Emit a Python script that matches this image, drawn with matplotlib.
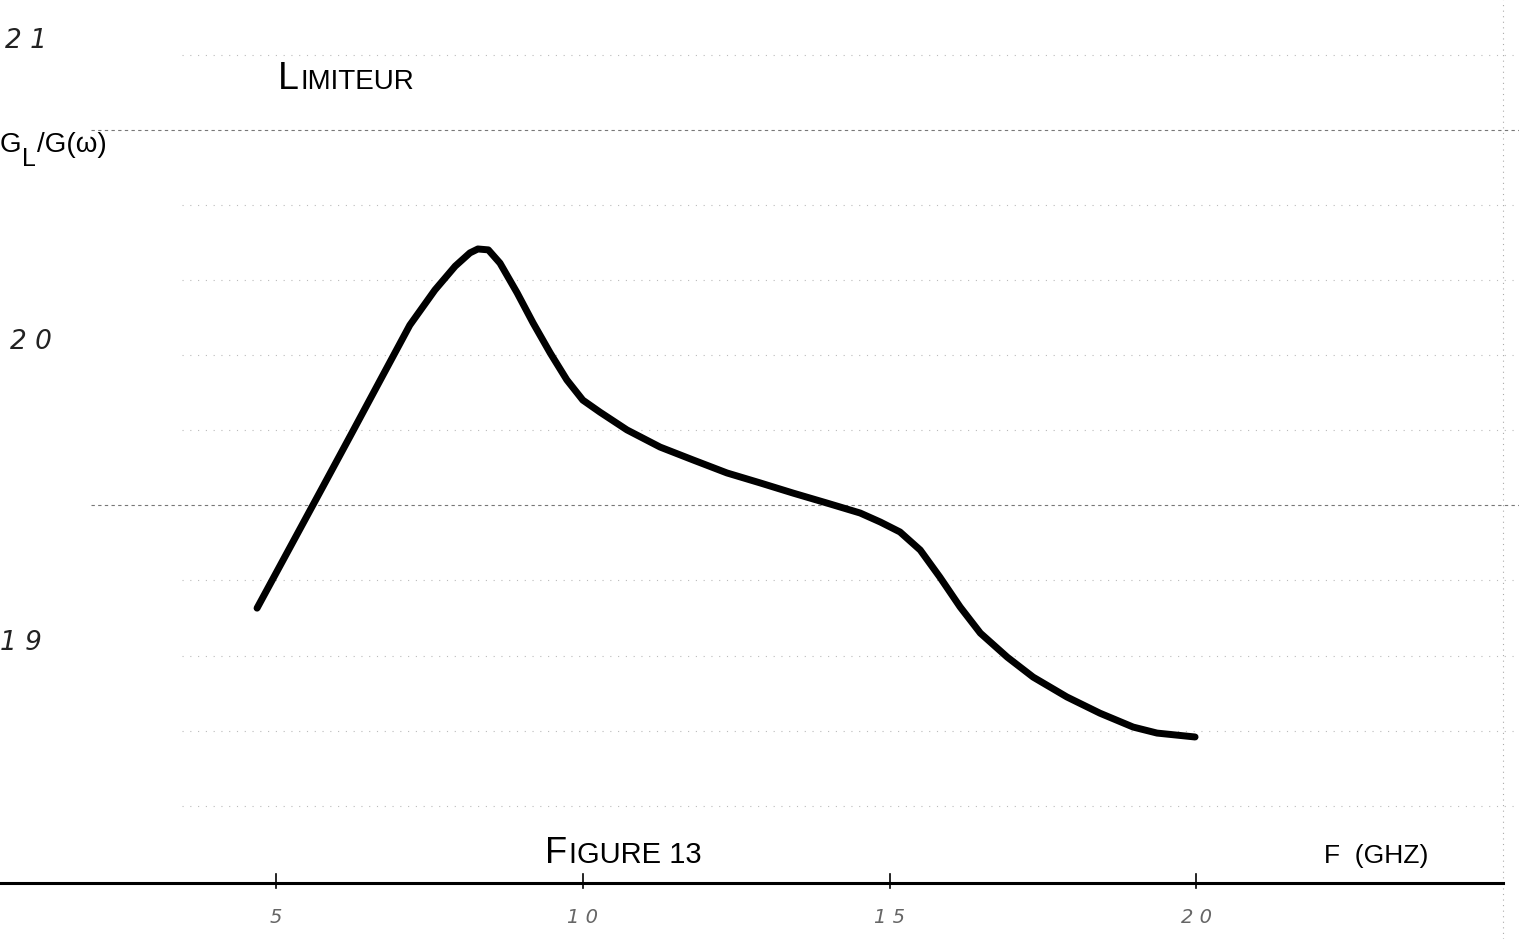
import matplotlib
matplotlib.use('Agg')
import matplotlib.pyplot as plt
import numpy as np

# Courbe (F en GHz, rapport G_L/G(w))
freq = [4.69, 5.23, 5.77, 6.21, 6.70, 7.18, 7.59, 7.92, 8.16, 8.29, 8.46,
        8.65, 8.93, 9.19, 9.47, 9.74, 10.00, 10.28, 10.72, 11.26, 11.80, 12.35,
        12.89, 13.43, 13.98, 14.52, 14.85, 15.17, 15.50, 15.82, 16.15, 16.48,
        16.92, 17.34, 17.89, 18.43, 18.97, 19.36, 19.98]
gain = [19.116, 19.319, 19.522, 19.688, 19.874, 20.056, 20.173, 20.252, 20.296,
        20.309, 20.306, 20.262, 20.163, 20.063, 19.963, 19.874, 19.807,
        19.767, 19.708, 19.651, 19.608, 19.565, 19.532, 19.498, 19.465, 19.432,
        19.402, 19.369, 19.309, 19.219, 19.120, 19.033, 18.953, 18.887, 18.821,
        18.767, 18.721, 18.701, 18.688]

x_ticks = [5, 10, 15, 20]
x_tick_labels = ['5', '1 0', '1 5', '2 0']
y_ticks = [21, 20, 19]
y_tick_labels = ['2 1', '2 0', '1 9']

fig = plt.figure(figsize=(15.19, 9.39), dpi=100)
ax = fig.add_axes([0, 0, 1, 1])
ax.set_xlim(0.50, 25.26)
ax.set_ylim(18.017, 21.136)
ax.axis('off')

# lignes pointillees du papier
paper = np.arange(18.46, 21.0, 0.2493)
for yy in paper:
    dark = abs(yy - 19.458) < 0.01 or abs(yy - 20.704) < 0.01
    if dark:
        ax.axhline(yy, xmin=0.06, color='#777777', lw=0.8, ls=(0, (3, 3)), zorder=1)
    else:
        ax.axhline(yy, xmin=0.12, color='#bbbbbb', lw=0.8, ls=(0, (1, 6)), zorder=1)
ax.axvline(25.0, color='#aaaaaa', lw=0.8, ls=(0, (1, 4)), zorder=1)

# axe des frequences
y_axis = 18.203
ax.plot([0.5, 25.0], [y_axis, y_axis], color='black', lw=2.2, zorder=2)
for xt, lab in zip(x_ticks, x_tick_labels):
    ax.plot([xt, xt], [y_axis - 0.015, y_axis + 0.03], color='black', lw=1.2)
    ax.text(xt, y_axis - 0.115, lab, ha='center', va='center', fontsize=14,
            color='#666666', fontstyle='italic', fontweight='light')

# graduations verticales
ylab_x = {21: 0.92, 20: 1.00, 19: 0.84}
for yt, lab in zip(y_ticks, y_tick_labels):
    ax.text(ylab_x[yt], yt, lab, ha='center', va='center', fontsize=19,
            fontstyle='italic', color='#222222')

# courbe
ax.plot(freq, gain, color='black', lw=5, solid_capstyle='round',
        solid_joinstyle='round', zorder=3)

# textes en petites capitales
narrow = ['Liberation Sans Narrow', 'Liberation Sans']
renderer = fig.canvas.get_renderer()


def caps(x, y, first, rest, big, small, gap=2):
    t = ax.text(x, y, first, fontsize=big, family=narrow, va='baseline')
    bb = t.get_window_extent(renderer)
    xr = ax.transData.inverted().transform((bb.x1 + gap, 0))[0]
    ax.text(xr, y, rest, fontsize=small, family=narrow, va='baseline')


caps(5.03, 20.84, 'L', 'IMITEUR', 27, 20)
caps(9.38, 18.27, 'F', 'IGURE 13', 26, 21)

ax.text(0.50, 20.63, 'G', fontsize=20, family=narrow, va='baseline')
ax.text(0.86, 20.585, 'L', fontsize=18, family=narrow, va='baseline')
ax.text(1.10, 20.63, '/G(ω)', fontsize=20, family=narrow, va='baseline')

ax.text(22.08, 18.27, 'F  (GHZ)', fontsize=19, family=narrow, va='baseline')

fig.savefig('out.png', dpi=100)
